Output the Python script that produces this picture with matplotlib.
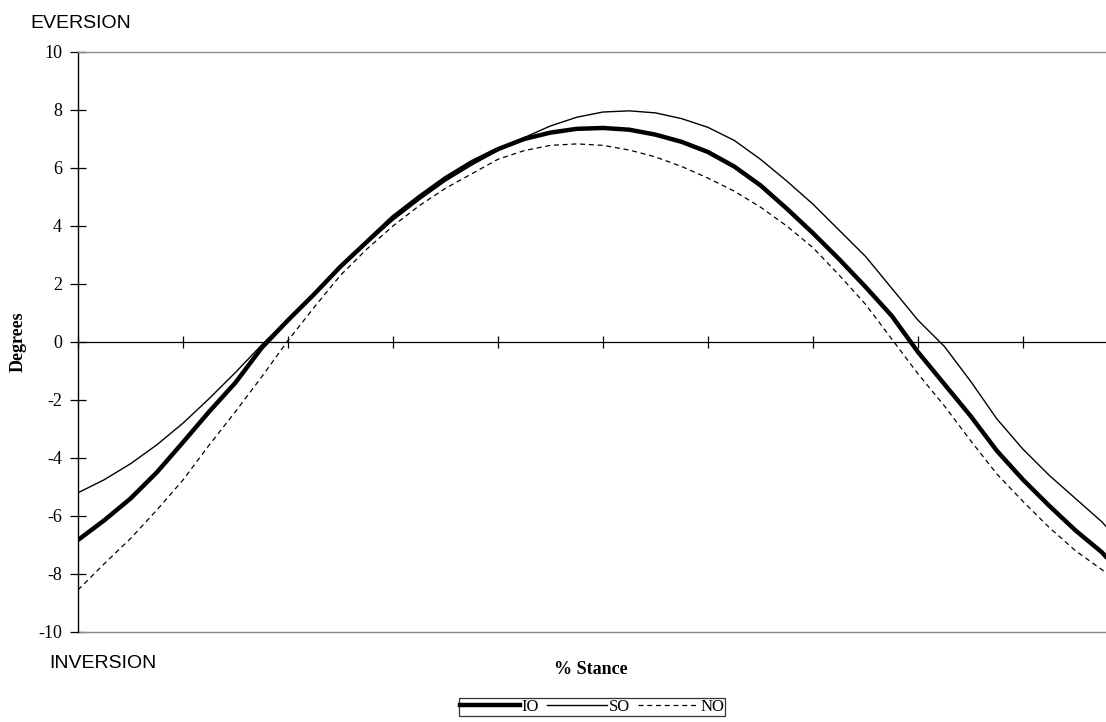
import matplotlib
matplotlib.use("Agg")
import matplotlib.pyplot as plt
from matplotlib.lines import Line2D

# % stance sample points
stance = [0, 2.5, 5, 7.5, 10, 12.5, 15, 17.5, 20, 22.5, 25, 27.5, 30, 32.5, 35,
          37.5, 40, 42.5, 45, 47.5, 50, 52.5, 55, 57.5, 60, 62.5, 65, 67.5, 70,
          72.5, 75, 77.5, 80, 82.5, 85, 87.5, 90, 92.5, 95, 97.5, 98]

io = [-6.83, -6.15, -5.4, -4.5, -3.46, -2.4, -1.4, -0.2, 0.75, 1.65, 2.6, 3.45,
      4.3, 5.0, 5.65, 6.2, 6.65, 7.0, 7.22, 7.35, 7.38, 7.32, 7.15, 6.9, 6.55,
      6.05, 5.4, 4.6, 3.75, 2.85, 1.9, 0.9, -0.35, -1.45, -2.55, -3.75, -4.75,
      -5.65, -6.5, -7.25, -7.45]

so = [-5.2, -4.75, -4.2, -3.55, -2.8, -1.95, -1.05, -0.1, 0.8, 1.7, 2.55, 3.4,
      4.2, 4.9, 5.55, 6.1, 6.6, 7.05, 7.45, 7.75, 7.93, 7.97, 7.9, 7.7, 7.4,
      6.95, 6.3, 5.55, 4.75, 3.85, 2.95, 1.85, 0.75, -0.15, -1.35, -2.65, -3.7,
      -4.6, -5.4, -6.2, -6.4]

no = [-8.55, -7.65, -6.78, -5.8, -4.76, -3.55, -2.4, -1.2, 0.05, 1.2, 2.3, 3.2,
      4.0, 4.7, 5.3, 5.8, 6.3, 6.6, 6.78, 6.83, 6.78, 6.62, 6.38, 6.05, 5.65,
      5.2, 4.65, 4.0, 3.25, 2.3, 1.3, 0.1, -1.1, -2.2, -3.4, -4.55, -5.5, -6.4,
      -7.2, -7.85, -8.0]

y_ticks = [-10, -8, -6, -4, -2, 0, 2, 4, 6, 8, 10]
x_ticks = [0, 10, 20, 30, 40, 50, 60, 70, 80, 90]

serif = "Liberation Serif"
sans = "Liberation Sans"

fig = plt.figure(figsize=(11.06, 7.22), dpi=100)
ax = fig.add_axes([0.0705, 0.1247, 0.9295, 0.8033])

ax.plot(stance, io, color="black", lw=3.2, solid_capstyle="butt")
ax.plot(stance, so, color="black", lw=1.0)
ax.plot(stance, no, color="black", lw=0.9, ls=(0, (4, 3)))

ax.set_xlim(0, 97.9)
ax.set_ylim(-10, 10)

# bottom spine doubles as the zero line
ax.spines["bottom"].set_position(("data", 0))
ax.spines["bottom"].set_linewidth(0.9)
ax.spines["right"].set_visible(False)
ax.spines["top"].set_color("#8a8a8a")
ax.spines["top"].set_linewidth(1.0)
ax.spines["left"].set_linewidth(1.0)
ax.axhline(-10, color="#8a8a8a", lw=1.0, clip_on=False)

ax.set_xticks(x_ticks)
ax.set_xticklabels([])
ax.tick_params(axis="x", direction="inout", length=9, width=0.9)
ax.set_yticks(y_ticks)
ax.set_yticklabels([str(v) for v in y_ticks], fontfamily=serif, fontsize=13)
ax.tick_params(axis="y", direction="inout", length=11, width=0.9, pad=6)

fig.text(18 / 1106, 1 - 342 / 722, "Degrees", rotation=90, ha="center", va="center",
         fontfamily=serif, fontweight="bold", fontsize=13)
fig.text(30 / 1106, 1 - 23 / 722, "EVERSION", ha="left", va="center",
         fontfamily=sans, fontsize=14)
fig.text(49 / 1106, 1 - 664 / 722, "INVERSION", ha="left", va="center",
         fontfamily=sans, fontsize=14)
fig.text(591 / 1106, 1 - 670 / 722, "% Stance", ha="center", va="center",
         fontfamily=serif, fontweight="bold", fontsize=13)

handles = [Line2D([], [], color="black", lw=3.2),
           Line2D([], [], color="black", lw=1.0),
           Line2D([], [], color="black", lw=0.9, ls=(0, (4, 3)))]
leg = fig.legend(handles, ["IO", "SO", "NO"], ncol=3, loc="upper center",
                 bbox_to_anchor=(592 / 1106, 1 - 698 / 722), frameon=True,
                 fancybox=False, borderpad=0.05, handlelength=3.6,
                 handletextpad=0.1, columnspacing=0.5, borderaxespad=0,
                 prop={"family": serif, "size": 12})
leg.get_frame().set_edgecolor("black")
leg.get_frame().set_linewidth(0.9)

fig.savefig("out.png", dpi=100)
